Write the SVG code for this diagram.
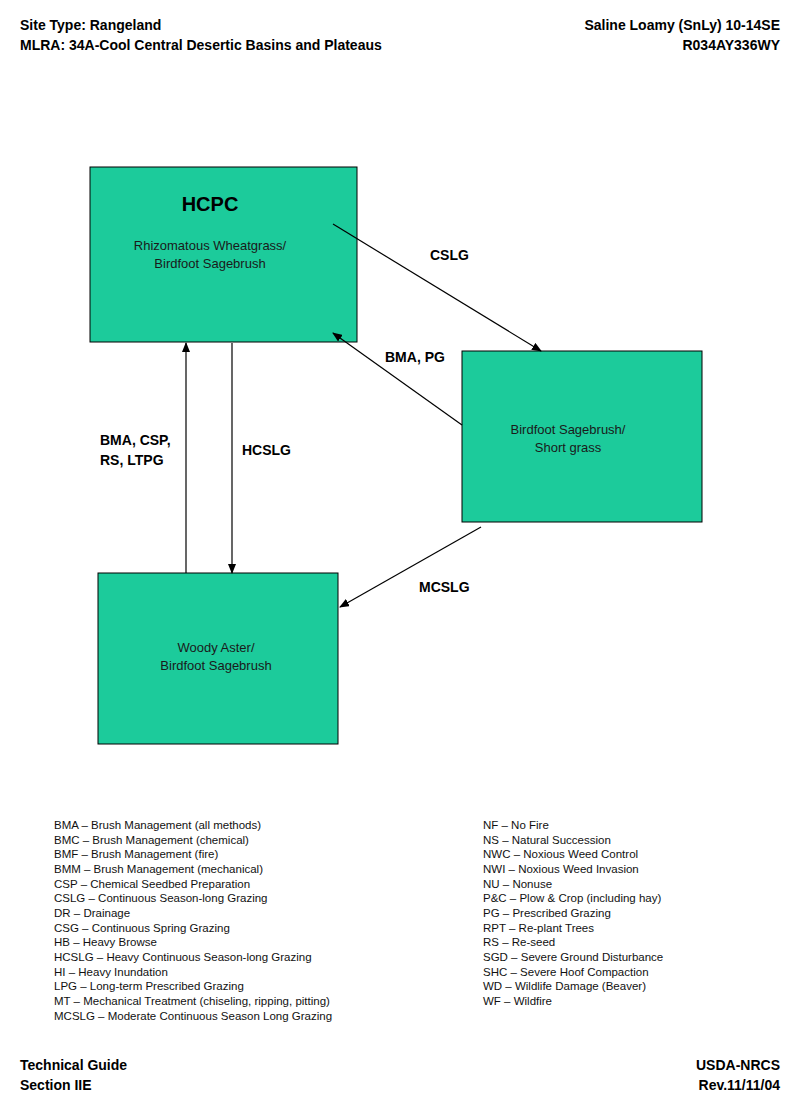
<svg xmlns="http://www.w3.org/2000/svg" width="800" height="1108" viewBox="0 0 800 1108">
<style>
.h{font-family:"Liberation Sans",Arial,sans-serif;font-weight:bold;font-size:14px;fill:#000}
.l{font-family:"Liberation Sans",Arial,sans-serif;font-weight:bold;font-size:14px;fill:#000}
.n{font-family:"Liberation Sans",Arial,sans-serif;font-size:13px;fill:#1a1a1a;text-anchor:middle}
.g{font-family:"Liberation Sans",Arial,sans-serif;font-size:11.5px;fill:#111}
.box{fill:#1ccb9b;stroke:#000;stroke-width:1}
.c{stroke:#000;stroke-width:1.2;fill:none;marker-end:url(#a)}
</style>
<defs><marker id="a" markerWidth="10" markerHeight="8" refX="9" refY="4" orient="auto" markerUnits="userSpaceOnUse"><path d="M0,0 L10,4 L0,8 z" fill="#000"/></marker></defs>
<rect width="800" height="1108" fill="#fff"/>
<text class="h" x="20" y="30">Site Type:  Rangeland</text>
<text class="h" x="20" y="50">MLRA: 34A-Cool Central Desertic Basins and Plateaus</text>
<text class="h" x="780" y="30" text-anchor="end">Saline Loamy (SnLy) 10-14SE</text>
<text class="h" x="780" y="50" text-anchor="end">R034AY336WY</text>
<g id="hcpc"><rect class="box" x="90" y="167" width="267" height="175"/>
<text x="210" y="211" font-family="Liberation Sans,Arial,sans-serif" font-weight="bold" font-size="20" text-anchor="middle">HCPC</text>
<text class="n" x="210" y="250">Rhizomatous Wheatgrass/</text><text class="n" x="210" y="268">Birdfoot Sagebrush</text></g>
<g id="birdfoot"><rect class="box" x="462" y="351" width="240" height="171"/>
<text class="n" x="568" y="434">Birdfoot Sagebrush/</text><text class="n" x="568" y="452">Short grass</text></g>
<g id="woody"><rect class="box" x="98" y="573" width="240" height="171"/>
<text class="n" x="216" y="652">Woody Aster/</text><text class="n" x="216" y="670">Birdfoot Sagebrush</text></g>
<g id="connectors">
<line class="c" x1="333" y1="224" x2="541" y2="351"/>
<line class="c" x1="462" y1="425" x2="333" y2="333"/>
<line class="c" x1="186" y1="573" x2="186" y2="343"/>
<line class="c" x1="232" y1="343" x2="232" y2="573"/>
<line class="c" x1="481" y1="527" x2="340" y2="607"/>
<text class="l" x="430" y="260">CSLG</text>
<text class="l" x="385" y="362">BMA, PG</text>
<text class="l" x="100" y="445">BMA, CSP,</text>
<text class="l" x="100" y="465">RS, LTPG</text>
<text class="l" x="242" y="455">HCSLG</text>
<text class="l" x="419" y="592">MCSLG</text>
</g>
<g class="g">
<text x="54" y="829">BMA – Brush Management (all methods)</text>
<text x="54" y="844">BMC – Brush Management (chemical)</text>
<text x="54" y="858">BMF – Brush Management (fire)</text>
<text x="54" y="873">BMM – Brush Management (mechanical)</text>
<text x="54" y="888">CSP – Chemical Seedbed Preparation</text>
<text x="54" y="902">CSLG – Continuous Season-long Grazing</text>
<text x="54" y="917">DR – Drainage</text>
<text x="54" y="932">CSG – Continuous Spring Grazing</text>
<text x="54" y="946">HB – Heavy Browse</text>
<text x="54" y="961">HCSLG – Heavy Continuous Season-long Grazing</text>
<text x="54" y="976">HI – Heavy Inundation</text>
<text x="54" y="990">LPG – Long-term Prescribed Grazing</text>
<text x="54" y="1005">MT – Mechanical Treatment (chiseling, ripping, pitting)</text>
<text x="54" y="1020">MCSLG – Moderate Continuous Season Long Grazing</text>
<text x="483" y="829">NF – No Fire</text>
<text x="483" y="844">NS – Natural Succession</text>
<text x="483" y="858">NWC – Noxious Weed Control</text>
<text x="483" y="873">NWI – Noxious Weed Invasion</text>
<text x="483" y="888">NU – Nonuse</text>
<text x="483" y="902">P&amp;C – Plow &amp; Crop (including hay)</text>
<text x="483" y="917">PG – Prescribed Grazing</text>
<text x="483" y="932">RPT – Re-plant Trees</text>
<text x="483" y="946">RS – Re-seed</text>
<text x="483" y="961">SGD – Severe Ground Disturbance</text>
<text x="483" y="976">SHC – Severe Hoof Compaction</text>
<text x="483" y="990">WD – Wildlife Damage (Beaver)</text>
<text x="483" y="1005">WF – Wildfire</text>
</g>
<text class="h" x="20" y="1070">Technical Guide</text>
<text class="h" x="20" y="1090">Section IIE</text>
<text class="h" x="780" y="1070" text-anchor="end">USDA-NRCS</text>
<text class="h" x="780" y="1090" text-anchor="end">Rev.11/11/04</text>
</svg>
